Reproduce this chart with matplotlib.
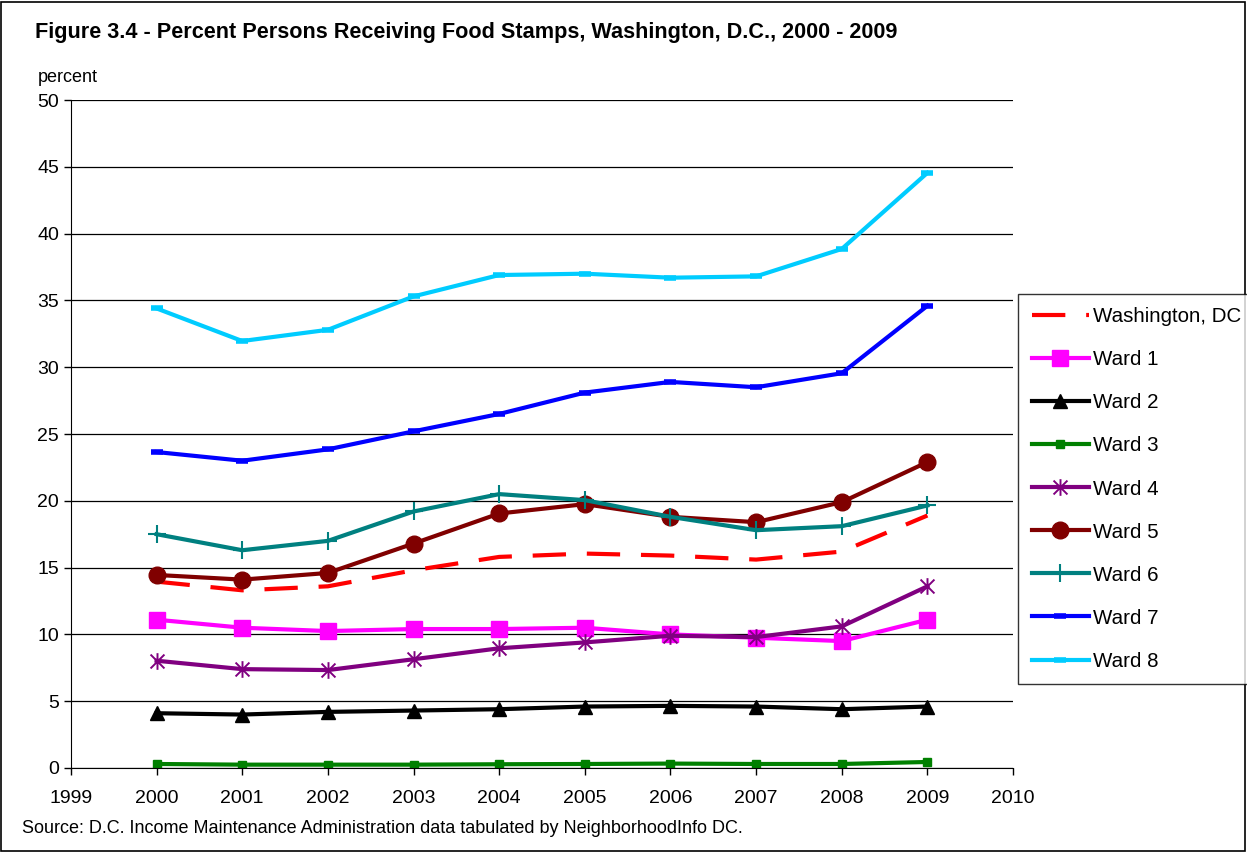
import matplotlib.pyplot as plt
from matplotlib.patches import Rectangle
from matplotlib.path import Path

plt.rcParams['font.family'] = ['Liberation Sans', 'DejaVu Sans']

# Data (percent persons receiving food stamps)
years = [2000, 2001, 2002, 2003, 2004, 2005, 2006, 2007, 2008, 2009]
washington_dc = [13.95, 13.3, 13.6, 14.8, 15.8, 16.05, 15.9, 15.6, 16.2, 18.9]
ward1 = [11.1, 10.5, 10.25, 10.4, 10.4, 10.5, 10.0, 9.75, 9.5, 11.1]
ward2 = [4.1, 4.0, 4.2, 4.3, 4.4, 4.6, 4.65, 4.6, 4.4, 4.6]
ward3 = [0.3, 0.25, 0.25, 0.25, 0.28, 0.3, 0.33, 0.3, 0.3, 0.45]
ward4 = [8.03, 7.4, 7.33, 8.14, 8.96, 9.4, 9.9, 9.8, 10.6, 13.6]
ward5 = [14.45, 14.1, 14.6, 16.8, 19.05, 19.75, 18.8, 18.4, 19.9, 22.9]
ward6 = [17.5, 16.3, 17.0, 19.2, 20.5, 20.05, 18.8, 17.8, 18.1, 19.65]
ward7 = [23.65, 23.0, 23.85, 25.2, 26.5, 28.1, 28.9, 28.5, 29.55, 34.6]
ward8 = [34.4, 31.96, 32.8, 35.3, 36.9, 37.0, 36.7, 36.8, 38.85, 44.55]

x_ticks = list(range(1999, 2011))
y_ticks = list(range(0, 51, 5))

# Excel-style star: an x with a vertical bar through it
star = Path([(-1, -1), (1, 1), (-1, 1), (1, -1), (0, -1.2), (0, 1.2)],
            [Path.MOVETO, Path.LINETO, Path.MOVETO, Path.LINETO, Path.MOVETO, Path.LINETO])

fig = plt.figure(figsize=(12.47, 8.52), dpi=100)
ax = fig.add_axes([0.0569, 0.0986, 0.7555, 0.784])

lw = 3
ax.plot(years, washington_dc, color='#FF0000', lw=lw, dashes=(8, 5),
        label='Washington, DC')
ax.plot(years, ward1, color='#FF00FF', lw=lw, marker='s', ms=12, label='Ward 1')
ax.plot(years, ward2, color='black', lw=lw, marker='^', ms=10, label='Ward 2')
ax.plot(years, ward3, color='#008000', lw=lw, marker='s', ms=6, label='Ward 3')
ax.plot(years, ward4, color='#800080', lw=lw, marker=star, ms=12, mew=1.4,
        label='Ward 4')
ax.plot(years, ward5, color='#800000', lw=lw, marker='o', ms=12, label='Ward 5')
ax.plot(years, ward6, color='#008080', lw=lw, marker='+', ms=13, mew=1.5,
        label='Ward 6')
ax.plot(years, ward7, color='#0000FF', lw=lw, marker='_', ms=8, mew=4,
        label='Ward 7')
ax.plot(years, ward8, color='#00CCFF', lw=lw, marker='_', ms=8, mew=4,
        label='Ward 8')

ax.set_xlim(1999, 2010)
ax.set_ylim(0, 50)
ax.set_xticks(x_ticks)
ax.set_yticks(y_ticks)
ax.tick_params(labelsize=14, direction='out', length=5, width=1)
ax.tick_params(axis='x', pad=11)
ax.yaxis.grid(True, color='black', lw=0.9)
ax.set_axisbelow(True)
ax.spines['top'].set_visible(False)
ax.spines['right'].set_visible(False)
ax.spines['left'].set_color('black')
ax.spines['bottom'].set_color('black')

fig.text(0.028, 0.962, 'Figure 3.4 - Percent Persons Receiving Food Stamps, Washington, D.C., 2000 - 2009',
         fontsize=15.6, fontweight='bold', va='center')
fig.text(0.03, 0.909, 'percent', fontsize=13, va='center')
fig.text(0.018, 0.028, 'Source: D.C. Income Maintenance Administration data tabulated by NeighborhoodInfo DC.',
         fontsize=13, va='center')

leg = fig.legend(loc='upper left', bbox_to_anchor=(0.8165, 0.655), fontsize=14.8,
                 frameon=True, fancybox=False, edgecolor='black',
                 handlelength=2.8, labelspacing=1.17, borderpad=0.65,
                 handletextpad=0.2, borderaxespad=0)
leg.get_frame().set_linewidth(1)

fig.patches.append(Rectangle((0.001, 0.001), 0.997, 0.997, transform=fig.transFigure,
                             fill=False, edgecolor='black', lw=1.2))

plt.savefig('out.png', dpi=100)
